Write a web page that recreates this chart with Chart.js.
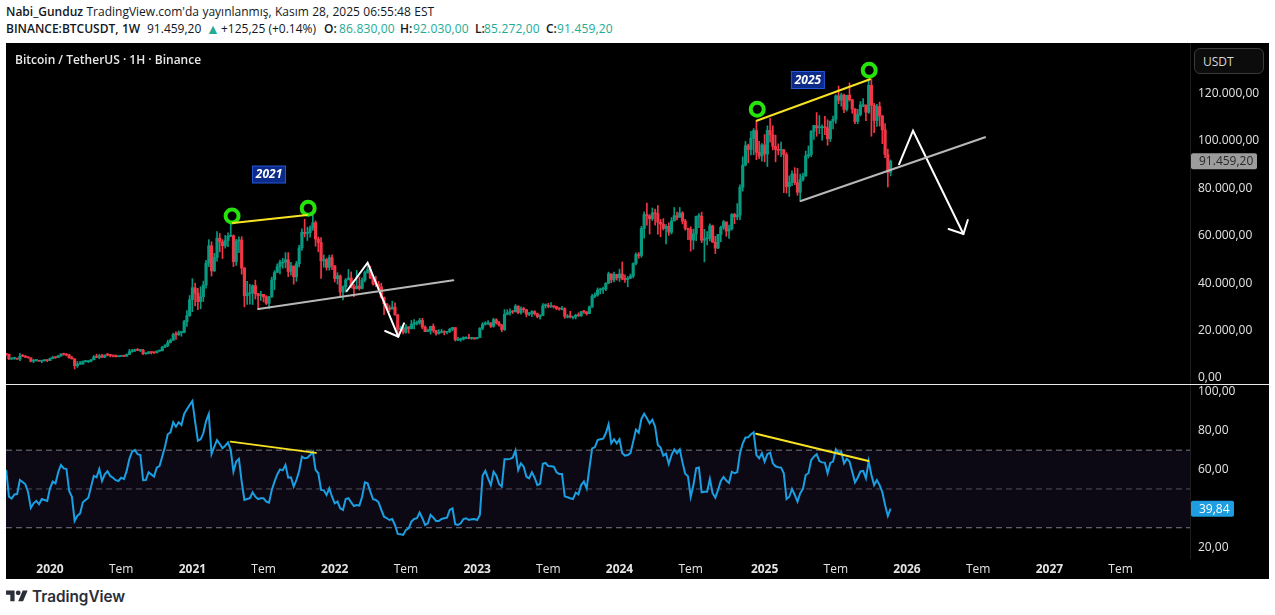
<!DOCTYPE html>
<html>
<head>
<meta charset="utf-8">
<script src="https://cdn.jsdelivr.net/npm/chart.js@4"></script>
<style>
    html, body { margin: 0; padding: 0; background: #fff; width: 1275px; height: 615px; overflow: hidden; }
    body { font-family: "Open Sans", sans-serif; position: relative; }
    .hdr { position: absolute; left: 6px; font-size: 12px; color: #131722; white-space: nowrap; line-height: 16px; word-spacing: 0.3px; }
    .hdr b { font-weight: 600; }
    .quote { position: absolute; top: 21px; font-size: 12px; color: #131722; white-space: nowrap; line-height: 16px; }
    .quote.lab { font-weight: 600; }
    .up { color: #22ab94; letter-spacing: 0.18px; }
    #panel { position: absolute; left: 6px; top: 43px; width: 1263px; height: 536px; background: #000; }
    #priceCanvas { position: absolute; left: 6px; top: 43px; }
    #rsiCanvas { position: absolute; left: 6px; top: 385px; }
    #sep { position: absolute; left: 6px; top: 384px; width: 1263px; height: 1px; background: #e8e8e8; }
    #title { position: absolute; left: 15px; top: 52px; color: #e8e8e8; font-size: 12px; font-weight: 600; line-height: 16px; }
    #unit { position: absolute; left: 1194px; top: 48px; width: 70px; height: 26px; box-sizing: border-box; border: 1px solid #3a3a3a; border-radius: 6px; background: #0c0c0c; color: #d8d8d8; font-size: 12px; line-height: 25px; padding-left: 8px; }
    #brand { position: absolute; left: 6px; top: 588px; display: flex; align-items: center; color: #2a2e39; font-family: Inter, sans-serif; font-size: 15.3px; font-weight: 600; line-height: 16px; }
    #brand svg { margin-right: 4px; }
</style>
</head>
<body>
<div class="hdr" style="top:4px"><b>Nabi_Gunduz</b> TradingView.com'da yayınlanmış, Kasım 28, 2025 06:55:48 EST</div>
<div class="hdr" style="top:21px"><b>BINANCE:BTCUSDT, 1W</b></div>
<span class="quote" style="left:147px">91.459,20</span>
<span class="quote up" style="left:206px;font-size:14px">▲</span>
<span class="quote" style="left:221px">+125,25 (+0.14%)</span>
<span class="quote lab" style="left:324px">O:</span><span class="quote up" style="left:339px">86.830,00</span>
<span class="quote lab" style="left:400px">H:</span><span class="quote up" style="left:413px">92.030,00</span>
<span class="quote lab" style="left:475px">L:</span><span class="quote up" style="left:484px">85.272,00</span>
<span class="quote lab" style="left:546px">C:</span><span class="quote up" style="left:557px">91.459,20</span>
<div id="panel"></div>
<canvas id="priceCanvas" width="1263" height="340"></canvas>
<div id="sep"></div>
<canvas id="rsiCanvas" width="1263" height="194"></canvas>
<div id="title">Bitcoin / TetherUS · 1H · Binance</div>
<div id="unit">USDT</div>
<div id="brand"><svg width="22" height="17" viewBox="0 0 36 28"><path fill="#2a2e39" d="M14 22H7V11H0V4h14v18zM28 22h-8l7.5-18h8L28 22z"/><circle fill="#2a2e39" cx="20" cy="8" r="4"/></svg>TradingView</div>

<script>
// BTCUSDT weekly candles. Week 0 is the "2020" tick.
const firstWeek = -16;
const firstOpen = 10290;

const closes = [
    10030,8045,8220,8300,7960,9230,9200,8800,8500,7050,7400,7510,7070,7320,7380,7350,
    8180,8700,8600,9300,10150,9920,9690,8530,8030,5190,5820,5880,6880,6910,7130,7700,8900,8720,9380,8720,9700,9660,9460,9300,9000,9070,9300,9210,9930,11100,11600,11900,11640,11700,10250,10330,11000,10750,10660,11370,11500,13000,13700,15000,15900,18400,18200,19150,19250,23800,26300,33000,
    38100,35800,32250,34300,39200,48500,55800,45200,50900,59000,57400,55800,58000,59800,60000,49100,57800,58200,46400,34700,35600,35800,39000,35600,34700,35300,34250,31500,34250,41450,44500,47000,48900,48900,49900,44900,47300,42700,48200,54900,61500,61000,61300,63300,65500,58600,57200,49400,50000,46700,50800,47300,
    41900,43100,36300,38500,41400,42200,38400,37700,38800,37800,41300,44500,45800,42150,39700,39450,38450,34050,31300,29450,29000,29900,26600,20550,21000,19300,21600,20800,22600,23300,23300,24300,21500,19550,20000,21800,20100,18800,19300,19400,19250,19570,20600,21300,16300,16300,16400,17100,17100,16750,16830,16550,
    17100,21000,22700,23000,23300,21850,24600,23200,22350,20450,26900,27500,27950,27900,30300,27600,29200,28900,26900,27100,28050,27100,25900,26340,30500,30600,30300,30300,30100,29350,29050,29300,26050,26050,25850,25850,26550,26250,27950,27900,27150,29950,34500,35000,37100,37400,37450,39950,44000,41400,43700,42300,
    43900,41750,41550,42100,43000,48300,52100,51700,63100,68950,68400,67200,69650,69350,65700,64950,63100,64000,61500,66250,68500,67750,69650,66200,63200,62700,58250,60800,68150,68250,58150,58700,58900,64200,57300,54850,60550,63550,65900,62000,62950,69000,68000,68750,80500,89850,98000,96400,101100,104450,95200,93700,98350,
    94500,104500,102600,97700,96450,96100,96250,94250,80750,82600,86100,82400,78400,83750,85200,93750,94300,104100,106450,105600,105650,105700,105600,100950,108300,109200,119050,117250,119400,113300,119300,117400,113500,108250,111150,115250,115250,112150,123500,115100,108650,114550,110550,104700,94300,86830,91459.2
];
const highs = [
    10360,10050,8520,8800,8420,10370,9940,9550,9070,8500,7870,7850,7430,7520,7690,7620,
    8470,9190,8790,9600,10190,10500,10300,9970,9170,8180,7000,7000,7200,7460,7300,7760,9460,10070,9950,10000,9740,10380,10000,9590,9780,9290,9470,9350,10150,12100,12050,12150,12480,11800,12050,10600,11180,10980,10950,11450,11770,13350,14100,15960,16480,18900,19500,19900,19600,24300,28400,34800,
    41900,40100,37850,38500,40900,49700,58350,57500,52600,61800,61000,58400,60200,61300,64850,60400,58500,59600,59600,46600,40800,39500,39300,41300,35700,36600,35100,34700,34500,42600,45300,48150,49800,50500,52900,52900,48850,45000,49200,56000,62900,67000,63700,64200,69000,66300,59500,59200,51950,50500,51800,52000,
    47500,44450,43500,38900,41950,45800,44750,39500,45400,42600,42300,45100,48200,47200,42400,42950,40800,40000,34250,31400,30500,32400,31700,26900,21900,21500,22500,21650,24300,24700,24000,25200,25200,22000,20600,21850,22800,19700,20400,20500,19950,19700,21000,21400,21100,17200,16800,17400,17450,18400,17000,16950,
    17180,21300,23400,23800,24250,23300,25250,25000,23900,22600,28850,28800,29200,28500,31000,30500,30000,29800,28300,27700,28400,28400,27400,26800,31400,31300,31500,31800,30350,30300,29700,30250,29650,26800,28150,26100,26900,27500,28100,28600,28000,30400,35300,35900,38000,37950,38400,40250,44700,43400,44700,43800,
    45900,48950,43550,42850,43900,48600,52800,52950,64000,70150,73800,68900,71750,71300,72800,66900,67250,64750,65500,67700,71950,70000,71950,70200,66950,62800,63850,62800,68350,69400,70000,62750,61800,65000,64500,59800,60650,64100,66500,65500,64500,69400,69500,73600,81500,93300,99800,98700,104100,105250,108350,99900,98950,
    102700,106400,109600,106450,102500,98800,99500,96500,95000,85300,87450,88750,88500,86100,86500,95750,97900,104350,106650,111980,110700,106800,110400,108950,108500,110500,119500,123200,120200,119800,119300,124500,117600,113650,113400,116700,117900,113500,125700,126200,115900,115450,116400,110800,107300,96600,92030
];
const lows = [
    9620,7700,7800,7850,7870,7300,8980,8670,8400,6800,6500,7080,7060,6430,7100,6850,
    7340,8100,8260,8560,9100,9630,9300,8400,8000,3780,4440,5700,5860,6750,6460,6800,7650,8520,8100,8700,8630,9300,8890,8900,8820,8900,9060,9000,9130,9900,10950,11100,11500,11100,9800,9900,10200,10100,10300,10500,11200,11410,12750,13200,14800,15900,16300,18000,17600,19000,21800,26000,
    28000,30400,28800,29200,32300,37900,47000,43000,44950,49300,53200,50400,54800,55400,59600,47000,47500,52900,43800,30000,31000,31100,31000,33300,28800,32700,32100,31000,29300,34000,37300,44700,43900,46300,46500,42800,43400,39600,40750,46900,53800,59500,58000,59400,62300,55600,53250,42000,46750,45500,45500,45700,
    40500,39600,34000,32900,36200,41650,38000,34300,37500,37100,37550,40500,44200,41900,39200,38550,37600,33700,26700,28600,28000,29300,26500,17600,19600,18600,18900,18900,20700,20700,22400,22650,20750,19550,19500,18500,19300,18100,18500,19000,18200,18650,19200,20000,15600,15800,15500,16000,16700,16500,16300,16300,
    16500,17100,20400,22300,22500,21300,21400,22700,21900,19500,20050,26600,26500,27200,27900,27100,26950,27700,25800,26350,25850,26550,25350,24800,26250,29500,29700,29950,29500,28850,28600,28700,25150,25350,25350,24900,24900,26000,26000,27200,26550,27100,29800,33900,34500,35500,35650,36850,39950,40200,40550,41300,
    40750,41400,40300,38500,41900,42250,47700,50500,50900,59000,64500,60750,66400,64500,60650,59600,62400,56550,60150,60750,66300,66650,68400,65000,62400,58400,53500,54300,57900,63450,57100,49000,56100,57800,57200,52500,54600,57500,62700,59800,58900,62400,65100,66800,66800,78900,89400,90800,94100,94200,92100,92500,91500,
    91200,89250,99500,96200,91200,94100,93400,78200,78000,76600,81150,81600,77100,74500,83100,85150,92800,93350,100700,102000,103100,100400,102700,98200,99800,105100,107450,115750,114700,112000,112650,116800,111700,107350,107300,110600,114400,108600,111600,102000,103500,106100,106300,98900,93000,80600,85272
];
// weekly open is the previous weekly close on this market
const opens = [firstOpen, ...closes.slice(0, -1)];

const rsiValues = [
    59.8,46.0,45.0,47.2,47.4,54.6,53.6,52.4,48.3,40.2,42.6,43.8,42.1,44.8,44.3,43.8,
    50.3,53.8,52.9,58.6,62.4,60.6,60.3,49.0,46.0,33.5,36.2,37.4,43.1,44.3,45.5,51.2,56.7,56.0,60.3,54.1,57.5,59.1,56.7,55.8,54.5,54.1,55.8,55.1,59.3,65.5,69.2,70.1,67.9,67.5,54.5,54.6,58.6,57.5,56.4,61.0,61.8,66.7,71.8,78.2,79.2,84.4,82.1,84.4,83.0,88.7,91.1,93.3,
    95.4,84.7,74.9,75.6,78.7,85.0,88.7,68.0,71.8,75.2,73.2,71.0,72.3,74.0,70.1,58.9,64.1,65.5,53.8,44.3,44.8,45.2,48.3,46.0,44.8,45.2,45.2,43.5,42.9,49.5,53.8,57.5,60.1,59.6,62.4,55.8,56.0,51.2,54.6,59.3,66.7,65.8,66.1,67.5,69.2,59.8,58.1,49.5,
    49.3,46.9,50.3,46.0,42.6,43.5,40.0,39.2,44.8,45.2,43.1,41.2,41.7,41.4,46.0,53.4,52.9,48.6,44.7,44.3,43.1,39.2,35.7,34.9,34.0,34.5,31.4,26.8,26.6,26.3,28.9,29.7,33.2,34.5,34.9,37.8,34.9,31.4,32.3,36.6,35.2,33.5,33.5,34.5,34.9,35.2,39.2,40.0,31.8,31.4,32.3,34.5,
    34.9,34.0,34.4,34.5,34.0,36.6,56.9,59.3,55.5,52.0,58.9,56.9,52.6,51.2,65.3,65.3,65.5,66.1,69.8,59.8,63.2,61.5,56.3,55.5,58.6,55.8,52.0,52.6,63.0,63.4,61.8,61.7,61.5,58.6,57.7,57.7,46.2,45.7,45.2,44.8,48.1,47.2,52.0,53.8,50.3,60.6,70.9,71.5,75.2,75.6,75.9,78.7,
    83.3,73.5,75.6,73.5,75.6,68.4,67.2,67.5,68.5,74.4,80.6,79.0,86.1,88.8,86.4,83.8,85.7,82.1,72.7,71.3,67.2,68.2,62.9,67.5,70.4,68.4,70.4,63.7,57.9,56.5,45.9,52.0,60.6,61.0,48.3,48.6,48.6,55.1,47.8,45.5,49.5,54.1,56.2,54.3,53.1,58.9,58.1,58.6,68.4,73.4,76.5,76.6,78.2,
    79.2,67.5,65.8,68.4,64.1,67.9,68.7,63.2,61.7,61.2,61.0,58.1,44.8,46.0,50.0,46.9,43.5,47.8,50.0,57.2,58.1,64.8,66.7,67.9,64.4,63.7,63.6,58.1,63.4,64.1,70.4,68.5,69.2,63.2,65.5,64.1,58.9,53.4,55.8,59.1,59.3,55.5,64.4,57.2,52.0,54.6,52.0,48.3,41.7,36.1,39.84
];

// axis ticks
const priceTicks = [0, 20000, 40000, 60000, 80000, 100000, 120000];
const rsiTicks = [20, 60, 80, 100];
const rsiLevels = [70, 50, 30];
const tickWeeks = [0, 26, 52, 78, 104, 130, 156, 182, 208, 234, 261, 287, 313, 339, 365, 391];
const tickLabels = ['2020', 'Tem', '2021', 'Tem', '2022', 'Tem', '2023', 'Tem', '2024', 'Tem', '2025', 'Tem', '2026', 'Tem', '2027', 'Tem'];

// visible window, in weeks and in axis units
const weekMin = -16.07, weekMax = 416.36;
const priceMin = -2110, priceMax = 141350;
const rsiMin = 14.4, rsiMax = 103.6;

// drawings on the price pane, as [week, price] anchors
const yellow2021Weeks = [66.8, 93.9], yellow2021Prices = [65401, 68776];
const gray2021Weeks = [76.1, 147.3], gray2021Prices = [29114, 41224];
const white2021Weeks = [108.4, 116.0, 127.2], white2021Prices = [36709, 48650, 17426];
const head2021Weeks = [122.4, 127.2, 129.3], head2021Prices = [19831, 17426, 23080];
const yellow2025Weeks = [258.1, 299.5], yellow2025Prices = [108566, 126034];
const gray2025Weeks = [274.2, 341.5], gray2025Prices = [74684, 101561];
const white2025Weeks = [310.1, 315.2, 333.6], white2025Prices = [90169, 104346, 60760];
const head2025Weeks = [328.2, 333.6, 335.2], head2025Prices = [62869, 60760, 66667];
const ringWeeks = [66.5, 94.3, 258.3, 299.2], ringPrices = [68354, 71624, 113376, 129831];
const yearNoteTexts = ['2021', '2025'], yearNoteWeeks = [80.0, 276.8], yearNotePrices = [85865, 125739];

// drawings on the RSI pane
const rsiLine2021Weeks = [66, 97.1], rsiLine2021Values = [74.4, 68.6];
const rsiLine2025Weeks = [257.9, 298.9], rsiLine2025Values = [78.5, 64.4];

const lastPrice = 91459.2, lastRsi = 39.84;

const upColor = '#089981', downColor = '#f23645';
const axisFont = '"Open Sans", sans-serif';

function trFormat(value) {
    return value.toLocaleString('tr-TR', { minimumFractionDigits: 2, maximumFractionDigits: 2 });
}

function toPoints(xs, ys) {
    return xs.map((x, i) => ({ x: x, y: ys[i] }));
}

function segment(xs, ys, color) {
    return {
        type: 'line', data: toPoints(xs, ys), borderColor: color, borderWidth: 2,
        pointRadius: 0, tension: 0, order: 0, borderCapStyle: 'round', borderJoinStyle: 'miter'
    };
}

// price axis keeps its width and does not push the plot area away from the pane edges
function fixedWidth(scale) {
    scale.width = 79;
    scale.paddingTop = 0;
    scale.paddingBottom = 0;
}

function pill(ctx, x, y, w, h, fill, color, text) {
    ctx.fillStyle = fill;
    ctx.beginPath();
    ctx.roundRect(x, y - h / 2, w, h, 2);
    ctx.fill();
    ctx.fillStyle = color;
    ctx.font = '12px ' + axisFont;
    ctx.textAlign = 'left';
    ctx.textBaseline = 'middle';
    ctx.fillText(text, x + 8, y + 0.5);
}

const candleWeeks = closes.map((c, i) => firstWeek + i);
const candleColors = closes.map((c, i) => c >= opens[i] ? upColor : downColor);

const priceNotes = {
    id: 'priceNotes',
    afterDatasetsDraw(chart) {
        const { ctx, scales: { x, y } } = chart;
        ctx.save();
        yearNoteTexts.forEach((text, i) => {
            const cx = x.getPixelForValue(yearNoteWeeks[i]);
            const cy = y.getPixelForValue(yearNotePrices[i]);
            ctx.fillStyle = '#0c2a8a';
            ctx.strokeStyle = '#2456d8';
            ctx.lineWidth = 1;
            ctx.fillRect(cx - 16.5, cy - 8.5, 33, 17);
            ctx.strokeRect(cx - 16.5, cy - 8.5, 33, 17);
            ctx.fillStyle = '#fff';
            ctx.font = 'italic bold 12px ' + axisFont;
            ctx.textAlign = 'center';
            ctx.textBaseline = 'middle';
            ctx.fillText(text, cx, cy + 0.5);
        });
        pill(ctx, x.right + 1, y.getPixelForValue(lastPrice), 66, 16, '#9c9c9c', '#2a2a2a', trFormat(lastPrice));
        ctx.restore();
    }
};

new Chart(document.getElementById('priceCanvas'), {
    type: 'bar',
    data: {
        datasets: [
            { data: candleWeeks.map((w, i) => ({ x: w, y: [lows[i], highs[i]] })), backgroundColor: candleColors, barThickness: 1, grouped: false, order: 3 },
            { data: candleWeeks.map((w, i) => ({ x: w, y: [opens[i], closes[i]] })), backgroundColor: candleColors, barThickness: 2.5, minBarLength: 1, grouped: false, order: 2 },
            segment(gray2021Weeks, gray2021Prices, '#b8b8b8'),
            segment(gray2025Weeks, gray2025Prices, '#b8b8b8'),
            segment(yellow2021Weeks, yellow2021Prices, '#f7e223'),
            segment(yellow2025Weeks, yellow2025Prices, '#f7e223'),
            segment(white2021Weeks, white2021Prices, '#ffffff'),
            segment(head2021Weeks, head2021Prices, '#ffffff'),
            segment(white2025Weeks, white2025Prices, '#ffffff'),
            segment(head2025Weeks, head2025Prices, '#ffffff'),
            {
                type: 'line', data: toPoints(ringWeeks, ringPrices), showLine: false, order: 0,
                pointRadius: 6.5, pointBorderWidth: 4, pointBorderColor: '#27e30c', pointBackgroundColor: 'rgba(0,0,0,0)'
            }
        ]
    },
    options: {
        responsive: false,
        animation: false,
        layout: { padding: 0, autoPadding: false },
        plugins: { legend: { display: false }, tooltip: { enabled: false } },
        scales: {
            x: { type: 'linear', display: false, offset: false, min: weekMin, max: weekMax },
            y: {
                position: 'right', min: priceMin, max: priceMax,
                afterFit: fixedWidth,
                afterBuildTicks(scale) { scale.ticks = priceTicks.map(v => ({ value: v })); },
                grid: { display: false, drawTicks: false },
                border: { color: '#1c1c1c' },
                ticks: { color: '#e4e4e4', padding: 8, crossAlign: 'near', font: { family: axisFont, size: 12 }, callback: v => trFormat(v) }
            }
        }
    },
    plugins: [priceNotes]
});

const rsiNotes = {
    id: 'rsiNotes',
    afterDatasetsDraw(chart) {
        const { ctx, scales: { x, y } } = chart;
        ctx.save();
        pill(ctx, x.right + 1, y.getPixelForValue(lastRsi), 43, 16, '#1e9de0', '#ffffff', trFormat(lastRsi));
        ctx.restore();
    }
};

function levelLine(level, color, extra) {
    return Object.assign({
        type: 'line', data: toPoints([weekMin, weekMax], [level, level]),
        borderColor: color, borderWidth: 1, borderDash: [6, 4], pointRadius: 0, order: 4
    }, extra);
}

new Chart(document.getElementById('rsiCanvas'), {
    type: 'line',
    data: {
        datasets: [
            { data: candleWeeks.map((w, i) => ({ x: w, y: rsiValues[i] })), borderColor: '#1a9fe2', borderWidth: 2, pointRadius: 0, tension: 0, order: 1 },
            segment(rsiLine2021Weeks, rsiLine2021Values, '#f7e223'),
            segment(rsiLine2025Weeks, rsiLine2025Values, '#f7e223'),
            levelLine(rsiLevels[0], '#787b86', { fill: { target: { value: rsiLevels[2] } }, backgroundColor: 'rgba(126,87,194,0.1)' }),
            levelLine(rsiLevels[1], 'rgba(120,123,134,0.65)'),
            levelLine(rsiLevels[2], '#787b86')
        ]
    },
    options: {
        responsive: false,
        animation: false,
        layout: { padding: 0, autoPadding: false },
        plugins: { legend: { display: false }, tooltip: { enabled: false } },
        scales: {
            x: {
                type: 'linear', min: weekMin, max: weekMax,
                afterFit(scale) { scale.height = 21; },
                afterBuildTicks(scale) { scale.ticks = tickWeeks.map(v => ({ value: v })); },
                grid: { display: false, drawTicks: false },
                border: { display: false },
                ticks: {
                    color: '#e4e4e4', padding: 4, maxRotation: 0, autoSkip: false,
                    font: ctx => ({ family: axisFont, size: 12, weight: ctx.index % 2 === 0 ? '700' : '400' }),
                    callback: (v, i) => tickLabels[i]
                }
            },
            y: {
                position: 'right', min: rsiMin, max: rsiMax,
                afterFit: fixedWidth,
                afterBuildTicks(scale) { scale.ticks = rsiTicks.map(v => ({ value: v })); },
                grid: { display: false, drawTicks: false },
                border: { color: '#1c1c1c' },
                ticks: { color: '#e4e4e4', padding: 8, crossAlign: 'near', font: { family: axisFont, size: 12 }, callback: v => trFormat(v) }
            }
        }
    },
    plugins: [rsiNotes]
});
</script>
</body>
</html>
